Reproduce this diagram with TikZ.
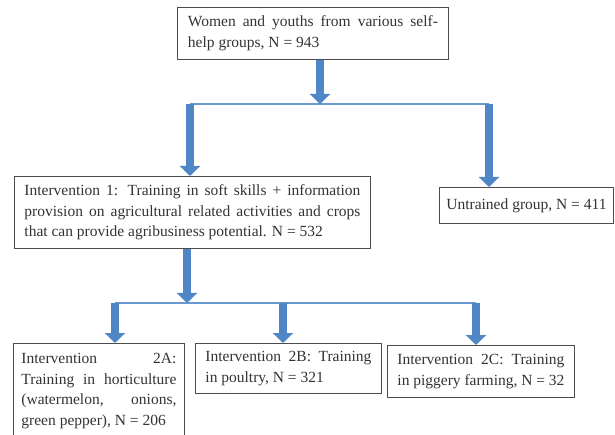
\documentclass[tikz,border=0pt]{standalone}
\usepackage{fontspec}
\setmainfont{Liberation Serif}
\usetikzlibrary{arrows.meta}
\definecolor{flowblue}{RGB}{79,134,198}
\tikzset{
  box/.style={draw=black!70, line width=0.9pt, anchor=north west, align=justify,
    inner xsep=10pt, inner ysep=8pt, text=black!80, font=\fontsize{15.5}{20.5}\selectfont},
  bigarrow/.style={flowblue, line width=8.5pt, -{Triangle[width=20pt,length=10pt]}},
  branch/.style={flowblue!85, line width=2pt}
}
\begin{document}
\begin{tikzpicture}[x=1pt,y=-1pt]
\useasboundingbox[fill=white] (0,0) rectangle (615,435);
\node[box, text width=250pt, minimum width=271pt, minimum height=52pt] (women) at (177,7)
  {Women and youths from various self-\linebreak help groups, N = 943};
\node[box, text width=336pt, minimum width=356pt, minimum height=72pt] (int1) at (14,176)
  {Intervention 1: Training in soft skills + information\linebreak provision on agricultural related activities and crops\linebreak that can provide agribusiness potential. N = 532};
\node[box, align=left, inner xsep=5pt, minimum width=174pt, minimum height=36pt] (untrained) at (439,187)
  {Untrained group, N = 411};
\node[box, inner xsep=8pt, text width=155pt, minimum width=171pt, minimum height=95pt] (int2a) at (13,343)
  {Intervention 2A:\linebreak Training in horticulture\linebreak (watermelon, onions,\linebreak green pepper), N = 206};
\node[box, text width=166pt, minimum width=186pt, minimum height=50pt] (int2b) at (195,343)
  {Intervention 2B: Training\linebreak in poultry, N = 321};
\node[box, text width=167pt, minimum width=187pt, minimum height=52pt] (int2c) at (387,345)
  {Intervention 2C: Training\linebreak in piggery farming, N = 32};
\coordinate (jtop) at (320,104);
\coordinate (jl) at (190,104);
\coordinate (jr) at (489,104);
\coordinate (jbot) at (187,303);
\coordinate (ja) at (115,303);
\coordinate (jb) at (283,303);
\coordinate (jc) at (476,303);
\draw[branch] (jl) -- (jr);
\draw[branch] (ja) -- (jc);
\draw[bigarrow] (women.south -| jtop) -- (jtop);
\draw[bigarrow] (jl) -- (jl |- int1.north);
\draw[bigarrow] (jr) -- (jr |- untrained.north);
\draw[bigarrow] (int1.south -| jbot) -- (jbot);
\draw[bigarrow] (ja) -- (ja |- int2a.north);
\draw[bigarrow] (jb) -- (jb |- int2b.north);
\draw[bigarrow] (jc) -- (jc |- int2c.north);
\end{tikzpicture}
\end{document}
